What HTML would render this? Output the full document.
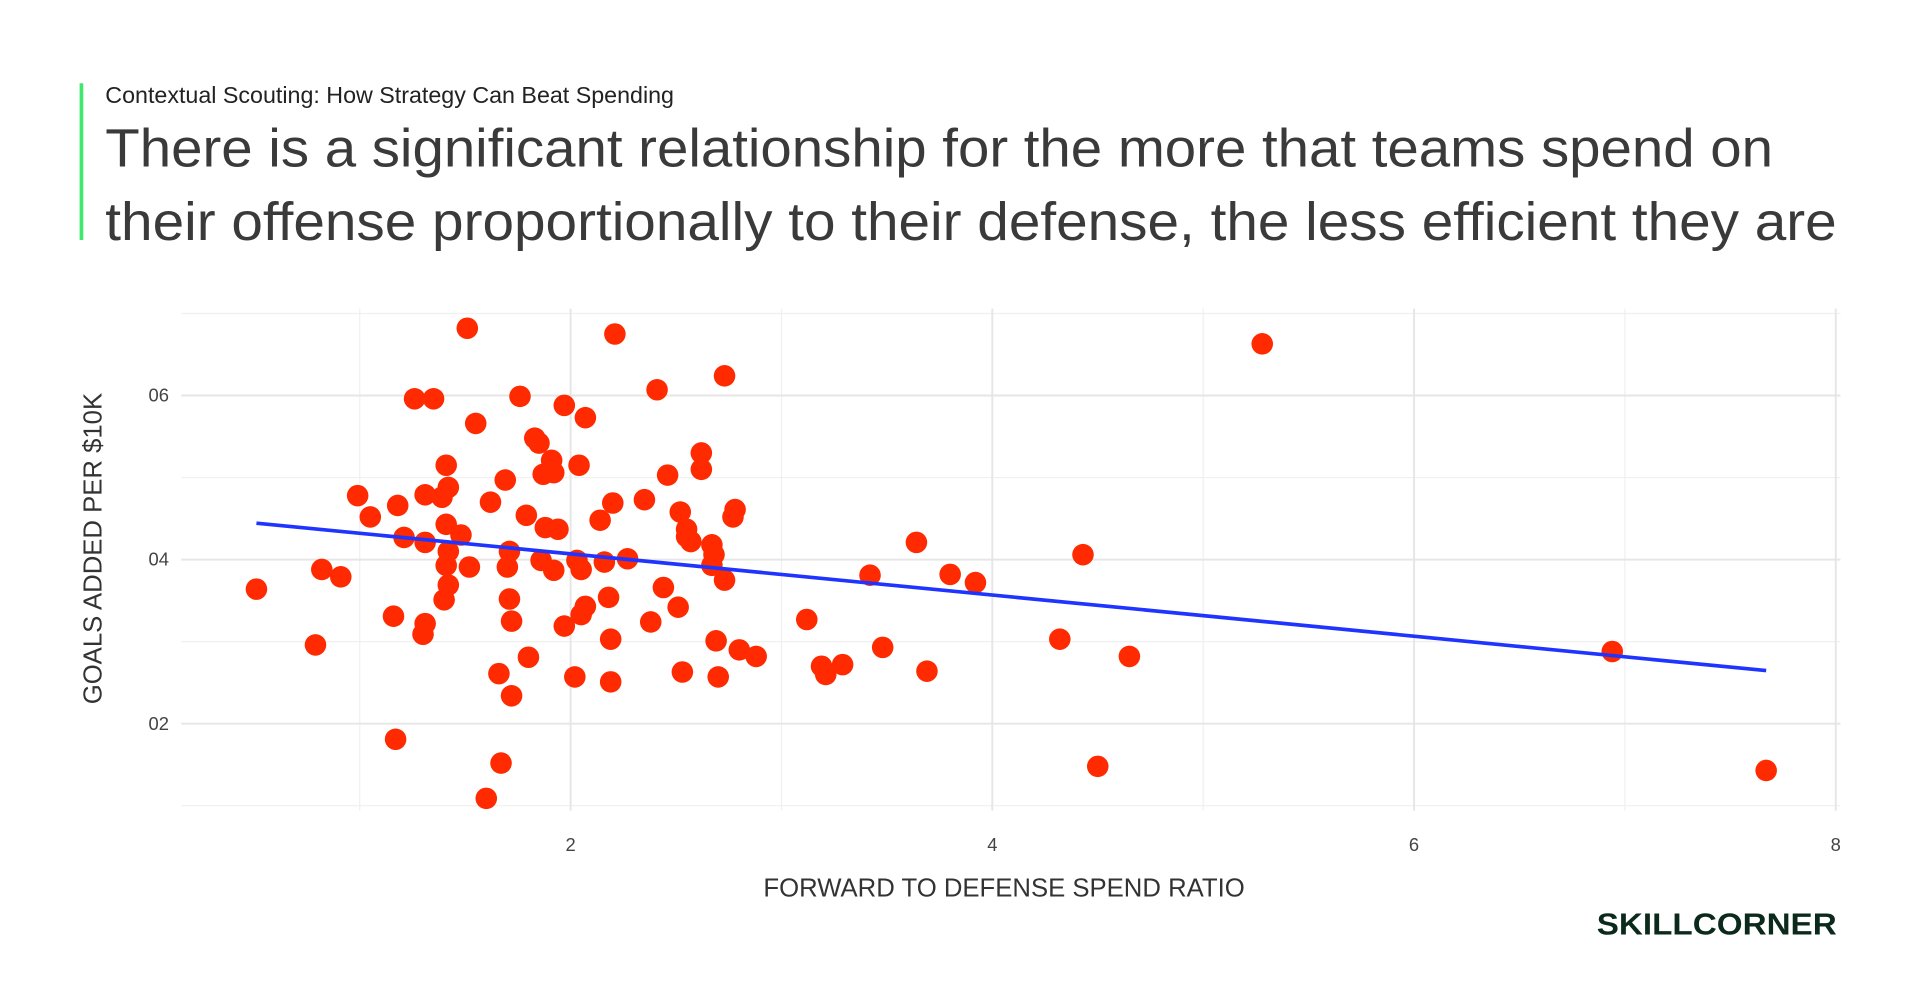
<!DOCTYPE html>
<html><head><meta charset="utf-8"><style>
html,body{margin:0;padding:0;background:#fff;}
svg{display:block;font-family:"Liberation Sans",sans-serif;}
</style></head><body>
<svg id="chart" width="1920" height="985" viewBox="0 0 1568 804.4" preserveAspectRatio="none" xmlns="http://www.w3.org/2000/svg">
<rect x="0" y="0" width="1568" height="805" fill="#fff"/>
<rect x="65" y="68" width="3" height="128" fill="#3ee86a"/>
<text x="86" y="84" font-size="19" fill="#222">Contextual Scouting: How Strategy Can Beat Spending</text>
<text x="86" y="136" font-size="44" fill="#3a3a3a" textLength="1362" lengthAdjust="spacingAndGlyphs">There is a significant relationship for the more that teams spend on</text>
<text x="86" y="196" font-size="44" fill="#3a3a3a" textLength="1414" lengthAdjust="spacingAndGlyphs">their offense proportionally to their defense, the less efficient they are</text>
<g id="grid"></g>
<g id="marks"></g>
<g id="axes"></g>
<text x="820" y="732" font-size="21" fill="#333" text-anchor="middle">FORWARD TO DEFENSE SPEND RATIO</text>
<text transform="translate(83,448) rotate(-90)" font-size="21" fill="#333" text-anchor="middle">GOALS ADDED PER $10K</text>
<text x="1500" y="763" font-size="25" font-weight="bold" fill="#0b2a1c" text-anchor="end" textLength="196" lengthAdjust="spacingAndGlyphs">SKILLCORNER</text>
</svg>
<script>
const xVals=[0.51,0.79,0.82,0.91,0.99,1.05,1.16,1.17,1.18,1.21,1.26,1.30,1.31,1.31,1.31,1.35,1.39,1.40,1.41,1.41,1.41,1.42,1.42,1.42,1.48,1.51,1.52,1.55,1.60,1.62,1.66,1.67,1.69,1.70,1.71,1.71,1.72,1.72,1.76,1.79,1.80,1.83,1.85,1.86,1.87,1.88,1.91,1.92,1.92,1.94,1.97,1.97,2.02,2.03,2.04,2.05,2.05,2.07,2.07,2.14,2.16,2.18,2.19,2.19,2.20,2.21,2.27,2.35,2.38,2.41,2.44,2.46,2.51,2.52,2.53,2.55,2.55,2.57,2.62,2.62,2.67,2.67,2.68,2.69,2.70,2.73,2.73,2.77,2.78,2.80,2.88,3.12,3.19,3.21,3.29,3.42,3.48,3.64,3.69,3.80,3.92,4.32,4.43,4.50,4.65,5.28,6.94,7.67];
const yVals=[36.4,29.6,38.8,37.9,47.8,45.2,33.1,18.1,46.6,42.7,59.6,30.9,32.2,47.9,42.1,59.6,47.6,35.1,51.5,44.3,39.3,41.0,48.8,36.9,43.0,68.2,39.1,56.6,10.9,47.0,26.1,15.2,49.7,39.1,41.0,35.2,32.5,23.4,59.9,45.4,28.1,54.8,54.2,39.9,50.4,43.9,52.1,50.6,38.7,43.7,58.8,31.9,25.7,39.9,51.5,38.8,33.3,57.3,34.3,44.8,39.7,35.4,30.3,25.1,46.9,67.5,40.1,47.3,32.4,60.7,36.6,50.3,34.2,45.8,26.3,42.8,43.7,42.2,53.0,51.0,39.3,41.8,40.6,30.1,25.7,37.5,62.4,45.2,46.1,29.0,28.2,32.7,27.0,26.0,27.2,38.1,29.3,42.1,26.4,38.2,37.2,30.3,40.6,14.8,28.2,66.3,28.8,14.3];
const xTicks=[2,4,6,8];
const xTickLabels=["2","4","6","8"];
const yTicks=[20,40,60];
const yTickLabels=["02","04","06"];
const xMinor=[1,3,5,7];
const yMinor=[10,30,50,70];

const NS="http://www.w3.org/2000/svg";
const X=v=>121.6+v*172.2;
const Y=v=>725-v*6.7;
const L=148,R=1503,T=252,B=662;
function mk(tag,attrs,parent){const e=document.createElementNS(NS,tag);for(const k in attrs)e.setAttribute(k,attrs[k]);parent.appendChild(e);return e;}
const grid=document.getElementById('grid'),marks=document.getElementById('marks'),axes=document.getElementById('axes');
xMinor.forEach(v=>{const l=mk('line',{x1:X(v),x2:X(v),y1:T,y2:B,stroke:'#f0f0f0','stroke-width':1},grid);

});
yMinor.forEach(v=>{const l=mk('line',{x1:L,x2:R,y1:Y(v),y2:Y(v),stroke:'#f0f0f0','stroke-width':1},grid);

});
xTicks.forEach((v,i)=>{const l=mk('line',{x1:X(v),x2:X(v),y1:T,y2:B,stroke:'#e6e6e6','stroke-width':1.6},grid);


const t=mk('text',{x:X(v),y:695,'font-size':15,fill:'#444','text-anchor':'middle'},axes);t.textContent=xTickLabels[i];

});
yTicks.forEach((v,i)=>{const l=mk('line',{x1:L,x2:R,y1:Y(v),y2:Y(v),stroke:'#e6e6e6','stroke-width':1.6},grid);


const t=mk('text',{x:138,y:Y(v)+5,'font-size':15,fill:'#444','text-anchor':'end'},axes);t.textContent=yTickLabels[i];

});
xVals.forEach((xv,i)=>{const c=mk('circle',{cx:X(xv),cy:Y(yVals[i]),r:8.8,fill:'#ff2a00'},marks);

});
const n=xVals.length;let sx=0,sy=0,sxx=0,sxy=0;
for(let i=0;i<n;i++){sx+=xVals[i];sy+=yVals[i];sxx+=xVals[i]*xVals[i];sxy+=xVals[i]*yVals[i];}
const slope=(n*sxy-sx*sy)/(n*sxx-sx*sx),inter=(sy-slope*sx)/n;
const x0=Math.min(...xVals),x1=Math.max(...xVals);
const tl=mk('line',{x1:X(x0),y1:Y(inter+slope*x0),x2:X(x1),y2:Y(inter+slope*x1),stroke:'#1f35ff','stroke-width':3},marks);


</script>
</body></html>
